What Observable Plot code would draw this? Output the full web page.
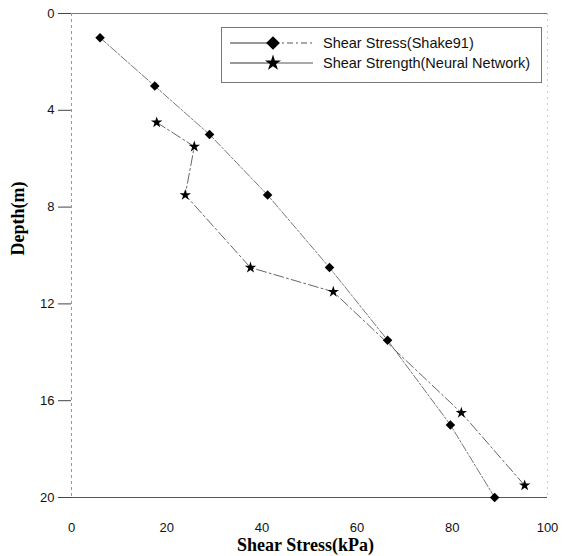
<!DOCTYPE html>
<html><head>
<meta charset="utf-8">
<script src="https://cdn.jsdelivr.net/npm/d3@7"></script>
<script src="https://cdn.jsdelivr.net/npm/@observablehq/plot@0.6"></script>
<style>
body{margin:0;background:#fff}
#wrap{position:relative;width:566px;height:556px}
#legend{position:absolute;left:221px;top:27px}
</style>
</head><body><div id="wrap"></div>
<script>
// Data
const stressX = [6, 17.5, 29, 41.2, 54.2, 66.4, 79.6, 88.9];
const stressDepth = [1, 3, 5, 7.5, 10.5, 13.5, 17, 20];
const strengthX = [17.9, 25.8, 23.9, 37.6, 55, 81.9, 95.2];
const strengthDepth = [4.5, 5.5, 7.5, 10.5, 11.5, 16.5, 19.5];
const xTicks = [0, 20, 40, 60, 80, 100];
const yTicks = [0, 4, 8, 12, 16, 20];
const seriesNames = ["Shear Stress(Shake91)", "Shear Strength(Neural Network)"];
const xTitle = "Shear Stress(kPa)";
const yTitle = "Depth(m)";

const stress = stressX.map((x, i) => ({x, y: stressDepth[i]}));
const strength = strengthX.map((x, i) => ({x, y: strengthDepth[i]}));

const serif = "'Liberation Serif', 'Times New Roman', serif";
const chart = Plot.plot({
  width: 566, height: 556,
  marginLeft: 71, marginRight: 19, marginTop: 13, marginBottom: 59,
  style: {fontFamily: "'Liberation Sans', Arial, sans-serif", fontSize: "13px", color: "#111", background: "#fff"},
  x: {domain: [0, 100]},
  y: {domain: [0, 20], reverse: true},
  marks: [
    Plot.ruleY([0], {stroke: "#777", strokeWidth: 1}),
    Plot.ruleY([20], {stroke: "#555", strokeWidth: 1}),
    Plot.ruleX([0], {stroke: "#999", strokeDasharray: "3,3"}),
    Plot.ruleX([100], {stroke: "#ccc", strokeDasharray: "2,4"}),
    Plot.axisY({ticks: yTicks, tickSize: 13, tickPadding: 4, label: null, stroke: "#444"}),
    Plot.axisX({ticks: xTicks, tickSize: 0, tickPadding: 25, label: null}),
    Plot.line(stress, {x: "x", y: "y", stroke: "#777", strokeWidth: 1, strokeDasharray: "8,2,2,2"}),
    Plot.line(strength, {x: "x", y: "y", stroke: "#666", strokeWidth: 1, strokeDasharray: "10,3,2,3"}),
    Plot.dot(stress, {x: "x", y: "y", symbol: "diamond2", r: 4.3, fill: "#000", stroke: "none"}),
    Plot.dot(strength, {x: "x", y: "y", symbol: "star", r: 3.6, fill: "#000", stroke: "none"}),
    Plot.text([xTitle], {frameAnchor: "bottom", dx: -4, dy: 53, fontFamily: serif, fontWeight: "bold", fontSize: 18, fill: "#000"}),
    Plot.text([yTitle], {frameAnchor: "left", dx: -53, rotate: -90, fontFamily: serif, fontWeight: "bold", fontSize: 18, fill: "#000"})
  ]
});
document.getElementById("wrap").appendChild(chart);

// Legend overlay
const lg = d3.select("#wrap").append("svg").attr("id", "legend")
  .attr("width", 322).attr("height", 58);
lg.append("rect").attr("x", 0.5).attr("y", 0.5).attr("width", 320).attr("height", 55)
  .attr("fill", "#fff").attr("stroke", "#777");
const sym = [d3.symbolDiamond2, d3.symbolStar];
const rightDash = ["6,3,2,3", "none"];
seriesNames.forEach((name, i) => {
  const yy = 16 + i * 20;
  lg.append("line").attr("x1", 9).attr("x2", 52).attr("y1", yy).attr("y2", yy)
    .attr("stroke", "#333").attr("stroke-width", 1);
  lg.append("line").attr("x1", 52).attr("x2", 92).attr("y1", yy).attr("y2", yy)
    .attr("stroke", "#555").attr("stroke-width", 1).attr("stroke-dasharray", rightDash[i]);
  lg.append("path").attr("d", d3.symbol(sym[i], i === 0 ? 120 : 80)())
    .attr("transform", `translate(52,${yy})`).attr("fill", "#000");
  lg.append("text").attr("x", 102).attr("y", yy + 5)
    .attr("font-family", "'Liberation Sans', Arial, sans-serif").attr("font-size", 14.5)
    .attr("fill", "#111").text(name);
});
</script>
</body></html>
